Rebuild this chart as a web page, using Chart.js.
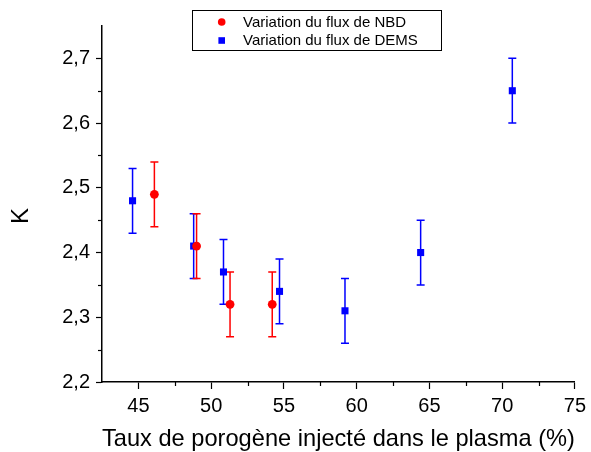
<!DOCTYPE html>
<html><head><meta charset="utf-8">
<script src="https://cdn.jsdelivr.net/npm/chart.js@4.4.0/dist/chart.umd.min.js"></script>
<style>html,body{margin:0;padding:0;background:#fff;} canvas{display:block;}</style>
</head><body>
<canvas id="c" width="591" height="452"></canvas>
<script>
// ---- data ----
const seriesNames = ['Variation du flux de NBD', 'Variation du flux de DEMS'];
const seriesColors = ['#ff0000', '#0000ff'];
const nbdX = [46.1, 49.0, 51.3, 54.2];
const nbdK = [2.49, 2.41, 2.32, 2.32];
const nbdErr = [0.05, 0.05, 0.05, 0.05];
const demsX = [44.6, 48.8, 50.85, 54.7, 59.2, 64.4, 70.7];
const demsK = [2.48, 2.41, 2.37, 2.34, 2.31, 2.40, 2.65];
const demsErr = [0.05, 0.05, 0.05, 0.05, 0.05, 0.05, 0.05];
const xTitle = 'Taux de porogène injecté dans le plasma (%)';
const yTitle = 'K';
const xMin = 42.5, xMax = 75, xStep = 2.5, xLabelEvery = 5;
const yMin = 2.2, yMax = 2.75, yStep = 0.05;

const FONT = '"Liberation Sans", Arial, sans-serif';

function pts(xs, ys) { return xs.map((x, i) => ({x: x, y: ys[i]})); }
const errs = [nbdErr, demsErr];

const isMajorX = v => Math.abs(v / xLabelEvery - Math.round(v / xLabelEvery)) < 1e-6;
const isMajorY = v => Math.round(v * 100) % 10 === 0;

const extras = {
  id: 'extras',
  beforeDatasetsDraw(chart) {
    const ctx = chart.ctx, xs = chart.scales.x, ys = chart.scales.y;
    // error bars: draw last dataset first so dataset 0 is on top
    for (let d = chart.data.datasets.length - 1; d >= 0; d--) {
      const ds = chart.data.datasets[d];
      ctx.save();
      ctx.strokeStyle = ds.backgroundColor;
      ctx.lineWidth = 1.5;
      ds.data.forEach((p, i) => {
        const e = errs[d][i];
        const px = xs.getPixelForValue(p.x);
        const y1 = ys.getPixelForValue(p.y + e);
        const y2 = ys.getPixelForValue(p.y - e);
        ctx.beginPath();
        ctx.moveTo(px, y1); ctx.lineTo(px, y2);
        ctx.moveTo(px - 4, y1); ctx.lineTo(px + 4, y1);
        ctx.moveTo(px - 4, y2); ctx.lineTo(px + 4, y2);
        ctx.stroke();
      });
      ctx.restore();
    }
  },
  afterDraw(chart) {
    const ctx = chart.ctx, xs = chart.scales.x, ys = chart.scales.y;
    const ca = chart.chartArea;
    ctx.save();
    ctx.strokeStyle = '#000';
    ctx.lineWidth = 1.2;
    // minor ticks
    xs.ticks.forEach(t => {
      if (isMajorX(t.value) || Math.abs(t.value - xMin) < 1e-6 || Math.abs(t.value - xMax) < 1e-6) return;
      const px = Math.round(xs.getPixelForValue(t.value)) + 0.5;
      ctx.beginPath(); ctx.moveTo(px, ca.bottom); ctx.lineTo(px, ca.bottom + 4); ctx.stroke();
    });
    ys.ticks.forEach(t => {
      if (isMajorY(t.value) || Math.abs(t.value - yMin) < 1e-6 || Math.abs(t.value - yMax) < 1e-6) return;
      const py = Math.round(ys.getPixelForValue(t.value)) + 0.5;
      ctx.beginPath(); ctx.moveTo(ca.left, py); ctx.lineTo(ca.left - 4, py); ctx.stroke();
    });
    ctx.restore();

    // y axis title
    ctx.save();
    ctx.fillStyle = '#000';
    ctx.font = '24px ' + FONT;
    ctx.translate(21, 216);
    ctx.rotate(-Math.PI / 2);
    ctx.textAlign = 'center';
    ctx.textBaseline = 'middle';
    ctx.fillText(yTitle, 0, 0);
    ctx.restore();

    // legend box
    ctx.save();
    ctx.fillStyle = '#fff';
    ctx.fillRect(192.5, 10.5, 249, 40);
    ctx.strokeStyle = '#000';
    ctx.lineWidth = 1;
    ctx.strokeRect(192.5, 10.5, 249, 40);
    const rows = [22, 40.5];
    ctx.font = '15px ' + FONT;
    ctx.textBaseline = 'middle';
    ctx.textAlign = 'left';
    chart.data.datasets.forEach((ds, i) => {
      const cy = rows[i];
      ctx.fillStyle = ds.backgroundColor;
      if (ds.pointStyle === 'circle') {
        ctx.beginPath(); ctx.arc(221.7, cy, 3.8, 0, Math.PI * 2); ctx.fill();
      } else {
        ctx.fillRect(221.7 - 3.3, cy - 3.3, 6.6, 6.6);
      }
      ctx.fillStyle = '#000';
      ctx.fillText(ds.label, 243, cy + 0.5);
    });
    ctx.restore();
  }
};

new Chart(document.getElementById('c'), {
  type: 'scatter',
  data: {
    datasets: [
      { label: seriesNames[0], data: pts(nbdX, nbdK), backgroundColor: seriesColors[0], borderColor: seriesColors[0],
        pointStyle: 'circle', pointRadius: 4.4, pointBorderWidth: 0, pointHoverRadius: 4.4 },
      { label: seriesNames[1], data: pts(demsX, demsK), backgroundColor: seriesColors[1], borderColor: seriesColors[1],
        pointStyle: 'rect', pointRadius: 5, pointBorderWidth: 0, pointHoverRadius: 5 }
    ]
  },
  options: {
    responsive: false,
    animation: false,
    devicePixelRatio: 1,
    layout: { padding: { left: 16, top: 26, right: 12, bottom: 0 } },
    plugins: { legend: { display: false }, tooltip: { enabled: false } },
    scales: {
      x: {
        type: 'linear', min: xMin, max: xMax,
        afterFit(s) { s.height = 70; },
        border: { display: true, color: '#000', width: 1.5 },
        grid: { drawOnChartArea: false, drawTicks: true, tickLength: 7, tickWidth: 1.2,
          tickColor: c => (c.tick && isMajorX(c.tick.value) && c.tick.value > xMin + 1e-6) ? '#000' : 'rgba(0,0,0,0)' },
        ticks: { stepSize: xStep, color: '#000', padding: 5, maxRotation: 0, autoSkip: false,
          font: { family: FONT, size: 20 },
          callback: v => isMajorX(v) && v > xMin + 1e-6 ? String(Math.round(v)) : '' },
        title: { display: true, text: xTitle, color: '#000', font: { family: FONT, size: 24, lineHeight: 1 },
          padding: { top: 0, bottom: 1 } }
      },
      y: {
        type: 'linear', min: yMin, max: yMax,
        afterFit(s) { s.width = 86; },
        border: { display: true, color: '#000', width: 1.5 },
        grid: { drawOnChartArea: false, drawTicks: true, tickLength: 6, tickWidth: 1.2,
          tickColor: c => (c.tick && isMajorY(c.tick.value)) ? '#000' : 'rgba(0,0,0,0)' },
        ticks: { stepSize: yStep, color: '#000', padding: 6, autoSkip: false,
          font: { family: FONT, size: 20 },
          callback: v => isMajorY(v) ? (Math.round(v * 10) / 10).toFixed(1).replace('.', ',') : '' },
        title: { display: false }
      }
    }
  },
  plugins: [extras]
});
</script>
</body></html>
